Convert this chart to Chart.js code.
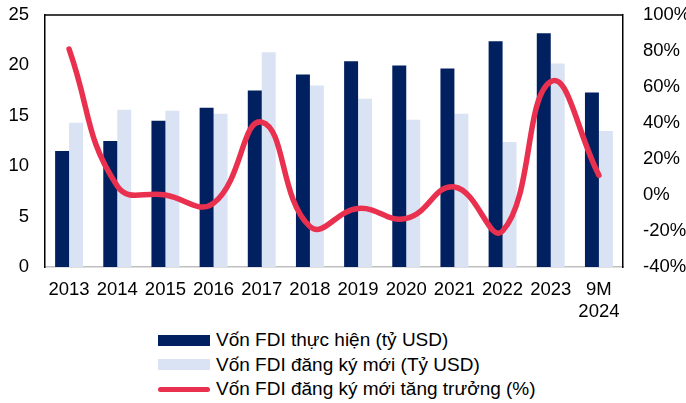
<!DOCTYPE html>
<html>
<head>
<meta charset="utf-8">
<script src="https://cdn.jsdelivr.net/npm/chart.js@4.4.1/dist/chart.umd.min.js"></script>
<style>
  body { margin: 0; background: #fff; font-family: "Liberation Sans", Arial, sans-serif; }
  #wrap { position: relative; width: 686px; height: 403px; }
  #box { position: absolute; left: 0; top: 0; width: 686px; height: 325px; }
  #legend { position: absolute; left: 158px; top: 328px; font-size: 19px; color: #000; }
  .row { display: flex; align-items: center; height: 24.5px; white-space: nowrap; }
  .sw { width: 52px; height: 11px; margin-right: 6px; }
  .sw.line { height: 5px; border-radius: 3px; }
</style>
</head>
<body>
<div id="wrap">
  <div id="box"><canvas id="fdiChart"></canvas></div>
  <div id="legend"></div>
</div>
<script>
// data
const years = ["2013", "2014", "2015", "2016", "2017", "2018", "2019", "2020", "2021", "2022", "2023", ["9M", "2024"]];
const disbursed = [11.5, 12.5, 14.5, 15.8, 17.5, 19.1, 20.4, 20.0, 19.7, 22.4, 23.2, 17.3];
const registered = [14.3, 15.6, 15.5, 15.2, 21.3, 18.0, 16.7, 14.6, 15.2, 12.4, 20.2, 13.5];
const growth = [81, 5, 0, -4.5, 40.5, -17.5, -7.5, -13, 4.5, -20, 63, 11];

const navy = "#002060";
const lightBlue = "#DAE3F3";
const red = "#E9304E";

// top border of the plot frame
const framePlugin = {
  id: "frame",
  afterDraw(chart) {
    const { ctx, chartArea } = chart;
    ctx.save();
    ctx.strokeStyle = "#000";
    ctx.lineWidth = 1.5;
    ctx.beginPath();
    ctx.moveTo(chartArea.left, chartArea.top);
    ctx.lineTo(chartArea.right, chartArea.top);
    ctx.stroke();
    ctx.restore();
  }
};

const tickFont = { family: "'Liberation Sans', Arial, sans-serif", size: 18.5 };

// fixed axis sizes, and no extra padding pushed into the layout
function fixWidth(w) {
  return function (scale) {
    scale.width = w;
    scale.paddingTop = 0;
    scale.paddingBottom = 0;
  };
}

const chart = new Chart(document.getElementById("fdiChart"), {
  type: "bar",
  data: {
    labels: years,
    datasets: [
      {
        type: "line",
        label: "Vốn FDI đăng ký mới tăng trưởng (%)",
        data: growth,
        yAxisID: "y1",
        borderColor: red,
        backgroundColor: red,
        borderWidth: 5.5,
        borderCapStyle: "round",
        pointRadius: 0,
        tension: 0.45,
        order: 0
      },
      {
        label: "Vốn FDI thực hiện (tỷ USD)",
        data: disbursed,
        backgroundColor: navy,
        yAxisID: "y",
        categoryPercentage: 0.58,
        barPercentage: 1,
        order: 1
      },
      {
        label: "Vốn FDI đăng ký mới (Tỷ USD)",
        data: registered,
        backgroundColor: lightBlue,
        yAxisID: "y",
        categoryPercentage: 0.58,
        barPercentage: 1,
        order: 2
      }
    ]
  },
  options: {
    responsive: true,
    maintainAspectRatio: false,
    animation: false,
    layout: { padding: { top: 15, left: 0, right: 0, bottom: 0 } },
    plugins: {
      legend: { display: false },
      tooltip: { enabled: false }
    },
    scales: {
      x: {
        grid: { display: false, drawTicks: false },
        border: { color: "#BFBFBF", width: 1.5 },
        ticks: { color: "#000", font: tickFont, padding: 12, maxRotation: 0, autoSkip: false },
        afterFit(scale) {
          scale.height = 58;
          scale.paddingLeft = 0;
          scale.paddingRight = 0;
        }
      },
      y: {
        position: "left",
        min: 0,
        max: 25,
        grid: { display: false, drawTicks: false },
        border: { color: "#000", width: 1.5 },
        ticks: { stepSize: 5, color: "#000", font: tickFont, padding: 16 },
        afterFit: fixWidth(45)
      },
      y1: {
        position: "right",
        min: -40,
        max: 100,
        grid: { display: false, drawTicks: false },
        border: { color: "#000", width: 1.5 },
        ticks: {
          stepSize: 20,
          color: "#000",
          font: tickFont,
          padding: 20,
          callback: (v) => v + "%"
        },
        afterFit: fixWidth(63)
      }
    }
  },
  plugins: [framePlugin]
});

// HTML legend, stacked like the original
const legendOrder = [1, 2, 0];
const legendBox = document.getElementById("legend");
legendOrder.forEach((i) => {
  const ds = chart.data.datasets[i];
  const row = document.createElement("div");
  row.className = "row";
  row.innerHTML = `<span class="sw${ds.type === "line" ? " line" : ""}" style="background:${ds.backgroundColor}"></span><span>${ds.label}</span>`;
  legendBox.appendChild(row);
});
</script>
</body>
</html>
